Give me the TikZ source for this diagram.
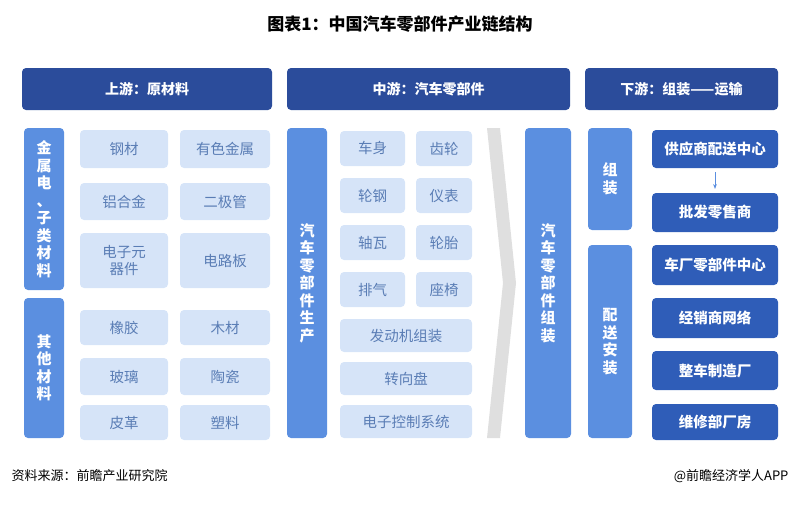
\documentclass[tikz,border=0pt]{standalone}
\usepackage{fontspec}
\setmainfont{Noto Sans CJK SC}
\usetikzlibrary{arrows.meta}
\definecolor{dk}{HTML}{2B4C9B}
\definecolor{md}{HTML}{5B8FE0}
\definecolor{rb}{HTML}{2F5DB8}
\definecolor{lt}{HTML}{D6E4F8}
\definecolor{lx}{HTML}{5A7DB5}
\begin{document}
\begin{tikzpicture}[x=1pt,y=-1pt,
 hdr/.style={draw=none,fill=dk,rounded corners=4pt,text=white,font=\bfseries\fontsize{14}{16}\selectfont},
 vb/.style={fill=md,rounded corners=4pt,text=white,font=\bfseries\fontsize{15}{17.5}\selectfont,align=center},
 lb/.style={fill=lt,rounded corners=4pt,text=lx,font=\fontsize{14.5}{17}\selectfont,align=center},
 rbx/.style={fill=rb,rounded corners=4pt,text=white,font=\bfseries\fontsize{14.5}{17}\selectfont,align=center}]
\useasboundingbox (0,0) rectangle (800,504);
\node[font=\bfseries\fontsize{17}{19}\selectfont] (title) at (400,24) {图表1：中国汽车零部件产业链结构};
\newcommand\bx[6]{\path[#1] (#2,#3) rectangle (#4,#5); \node[#1,fill=none,draw=none] (n#2x#3) at ({(#2+#4)/2},{(#3+#5)/2}) {#6};}
\bx{hdr}{22}{68}{272}{110}{上游：原材料}
\bx{hdr}{287}{68}{570}{110}{中游：汽车零部件}
\bx{hdr}{585}{68}{778}{110}{下游：组装——运输}
\bx{vb}{24}{128}{64}{290}{金\\属\\电\\、\\子\\类\\材\\料}
\bx{vb}{24}{298}{64}{438}{其\\他\\材\\料}
\bx{lb}{80}{130}{168}{168}{钢材}
\bx{lb}{80}{183}{168}{220}{铝合金}
\bx{lb}{80}{233}{168}{288}{电子元\\器件}
\bx{lb}{80}{310}{168}{345}{橡胶}
\bx{lb}{80}{358}{168}{395}{玻璃}
\bx{lb}{80}{405}{168}{440}{皮革}
\bx{lb}{180}{130}{270}{168}{有色金属}
\bx{lb}{180}{183}{270}{220}{二极管}
\bx{lb}{180}{233}{270}{288}{电路板}
\bx{lb}{180}{310}{270}{345}{木材}
\bx{lb}{180}{358}{270}{395}{陶瓷}
\bx{lb}{180}{405}{270}{440}{塑料}
\bx{vb}{287}{128}{327}{438}{汽\\车\\零\\部\\件\\生\\产}
\bx{lb}{340}{131}{405}{166}{车身}
\bx{lb}{340}{178}{405}{213}{轮钢}
\bx{lb}{340}{225}{405}{260}{轴瓦}
\bx{lb}{340}{272}{405}{307}{排气}
\bx{lb}{416}{131}{472}{166}{齿轮}
\bx{lb}{416}{178}{472}{213}{仪表}
\bx{lb}{416}{225}{472}{260}{轮胎}
\bx{lb}{416}{272}{472}{307}{座椅}
\bx{lb}{340}{319}{472}{352}{发动机组装}
\bx{lb}{340}{362}{472}{395}{转向盘}
\bx{lb}{340}{405}{472}{438}{电子控制系统}
\fill[gray!25] (487,128) -- (500,128) -- (516,283) -- (500,438) -- (487,438) -- (503,283) -- cycle;
\bx{vb}{525}{128}{571}{438}{汽\\车\\零\\部\\件\\组\\装}
\bx{vb}{588}{128}{632}{230}{组\\装}
\bx{vb}{588}{245}{632}{438}{配\\送\\安\\装}
\bx{rbx}{652}{130}{778}{168}{供应商配送中心}
\bx{rbx}{652}{193}{778}{232}{批发零售商}
\bx{rbx}{652}{245}{778}{285}{车厂零部件中心}
\bx{rbx}{652}{298}{778}{338}{经销商网络}
\bx{rbx}{652}{351}{778}{390}{整车制造厂}
\bx{rbx}{652}{404}{778}{440}{维修部厂房}
\coordinate (a1) at (715,172); \coordinate (a2) at (715,189);
\draw[md,thick,-{Stealth[length=5pt]}] (a1) -- (a2);
\node[anchor=west,font=\fontsize{13}{15}\selectfont] (src) at (8,476) {资料来源：前瞻产业研究院};
\node[anchor=east,font=\fontsize{13}{15}\selectfont] (app) at (792,476) {@前瞻经济学人APP};
\end{tikzpicture}
\end{document}
